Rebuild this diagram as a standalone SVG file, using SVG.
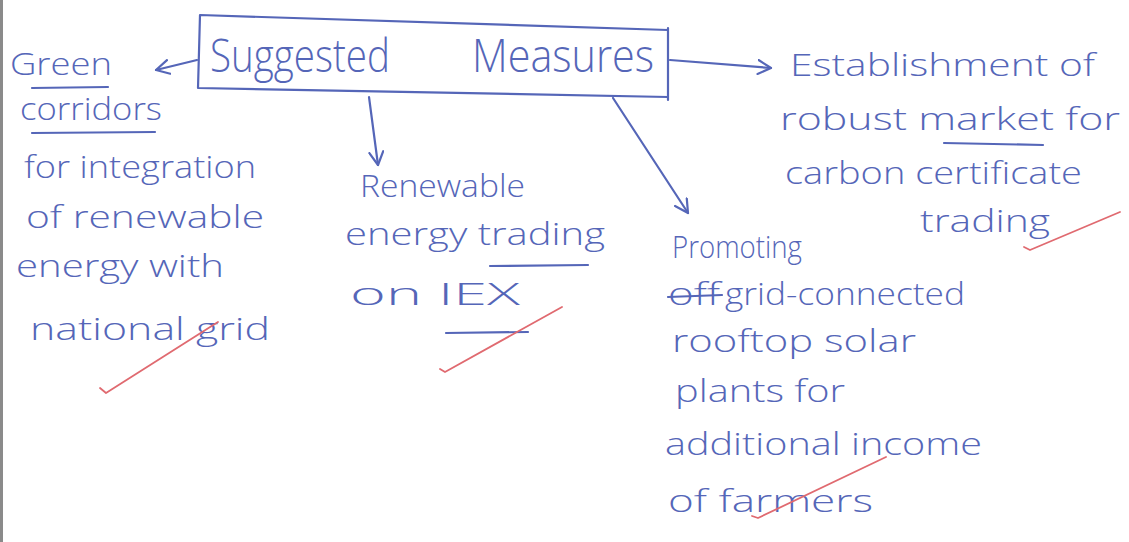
<svg xmlns="http://www.w3.org/2000/svg" width="1129" height="542" viewBox="0 0 1129 542">
  <style>
    .ink { font-family: "Open Sans", "DejaVu Sans", sans-serif; font-weight: 300; fill: #5566b8; }
    .big { font-size: 46px; }
    .txt { font-size: 31px; }
    .pen { fill: none; stroke: #5566b8; stroke-width: 2.2; stroke-linecap: round; stroke-linejoin: round; }
    .red { fill: none; stroke: #e06a70; stroke-width: 1.8; stroke-linecap: round; stroke-linejoin: round; }
  </style>
  <defs>
    <marker id="head" viewBox="0 0 16 16" refX="14" refY="8" markerWidth="16" markerHeight="16" markerUnits="userSpaceOnUse" orient="auto">
      <path d="M1,1 L14,8 L1,15" fill="none" stroke="#5566b8" stroke-width="2.2" stroke-linecap="round" stroke-linejoin="round"/>
    </marker>
  </defs>

  <rect width="1129" height="542" fill="#ffffff"/>
  <!-- scanned page edge -->
  <rect x="0" y="0" width="3" height="542" fill="#8a8a8a"/>

  <!-- central box -->
  <g id="node-suggested-measures">
    <path class="pen" d="M200,15 L668,30 M200,15 L198,88 L668,97 M668,28 L668,100"/>
    <text class="ink big" x="210" y="72" textLength="180" lengthAdjust="spacingAndGlyphs">Suggested</text>
    <text class="ink big" x="472" y="72" textLength="182" lengthAdjust="spacingAndGlyphs">Measures</text>
  </g>

  <!-- connectors -->
  <g id="connectors">
    <path class="pen" d="M197,60 L156,70" marker-end="url(#head)"/>
    <path class="pen" d="M670,60 L771,68" marker-end="url(#head)"/>
    <path class="pen" d="M369,97 L378,165" marker-end="url(#head)"/>
    <path class="pen" d="M613,98 L688,213" marker-end="url(#head)"/>
  </g>

  <g id="node-green-corridors">
    <text class="ink txt" x="10" y="75" textLength="102" lengthAdjust="spacingAndGlyphs">Green</text>
    <path class="pen" d="M32,88 L108,87"/>
    <text class="ink txt" x="20" y="120" textLength="142" lengthAdjust="spacingAndGlyphs">corridors</text>
    <path class="pen" d="M32,133 L155,132"/>
    <text class="ink txt" x="24" y="178" textLength="232" lengthAdjust="spacingAndGlyphs">for integration</text>
    <text class="ink txt" x="26" y="228" textLength="238" lengthAdjust="spacingAndGlyphs">of renewable</text>
    <text class="ink txt" x="16" y="277" textLength="208" lengthAdjust="spacingAndGlyphs">energy with</text>
    <text class="ink txt" x="30" y="340" textLength="240" lengthAdjust="spacingAndGlyphs">national grid</text>
    <path class="red" d="M100,388 L106,393 L218,322"/>
  </g>

  <g id="node-renewable-trading">
    <text class="ink txt" x="360" y="197" textLength="165" lengthAdjust="spacingAndGlyphs">Renewable</text>
    <text class="ink txt" x="345" y="245" textLength="260" lengthAdjust="spacingAndGlyphs">energy trading</text>
    <path class="pen" d="M490,266 L588,265"/>
    <text class="ink txt" x="350" y="305" textLength="170" lengthAdjust="spacingAndGlyphs">on IEX</text>
    <path class="pen" d="M446,333 L528,332"/>
    <path class="red" d="M440,369 L445,372 L562,307"/>
  </g>

  <g id="node-carbon-market">
    <text class="ink txt" x="790" y="76" textLength="305" lengthAdjust="spacingAndGlyphs">Establishment of</text>
    <text class="ink txt" x="780" y="130" textLength="340" lengthAdjust="spacingAndGlyphs">robust market for</text>
    <path class="pen" d="M944,143 L1043,145"/>
    <text class="ink txt" x="785" y="184" textLength="297" lengthAdjust="spacingAndGlyphs">carbon certificate</text>
    <text class="ink txt" x="920" y="232" textLength="130" lengthAdjust="spacingAndGlyphs">trading</text>
    <path class="red" d="M1024,247 L1030,250 L1120,212"/>
  </g>

  <g id="node-rooftop-solar">
    <text class="ink txt" x="672" y="258" textLength="130" lengthAdjust="spacingAndGlyphs">Promoting</text>
    <text class="ink txt" x="668" y="305" textLength="52" lengthAdjust="spacingAndGlyphs">off</text>
    <path class="pen" d="M668,297 L722,295"/>
    <text class="ink txt" x="725" y="305" textLength="240" lengthAdjust="spacingAndGlyphs">grid-connected</text>
    <text class="ink txt" x="672" y="352" textLength="244" lengthAdjust="spacingAndGlyphs">rooftop solar</text>
    <text class="ink txt" x="675" y="402" textLength="170" lengthAdjust="spacingAndGlyphs">plants for</text>
    <text class="ink txt" x="665" y="455" textLength="317" lengthAdjust="spacingAndGlyphs">additional income</text>
    <text class="ink txt" x="668" y="512" textLength="205" lengthAdjust="spacingAndGlyphs">of farmers</text>
    <path class="red" d="M752,516 L758,518 L886,457"/>
  </g>
</svg>
